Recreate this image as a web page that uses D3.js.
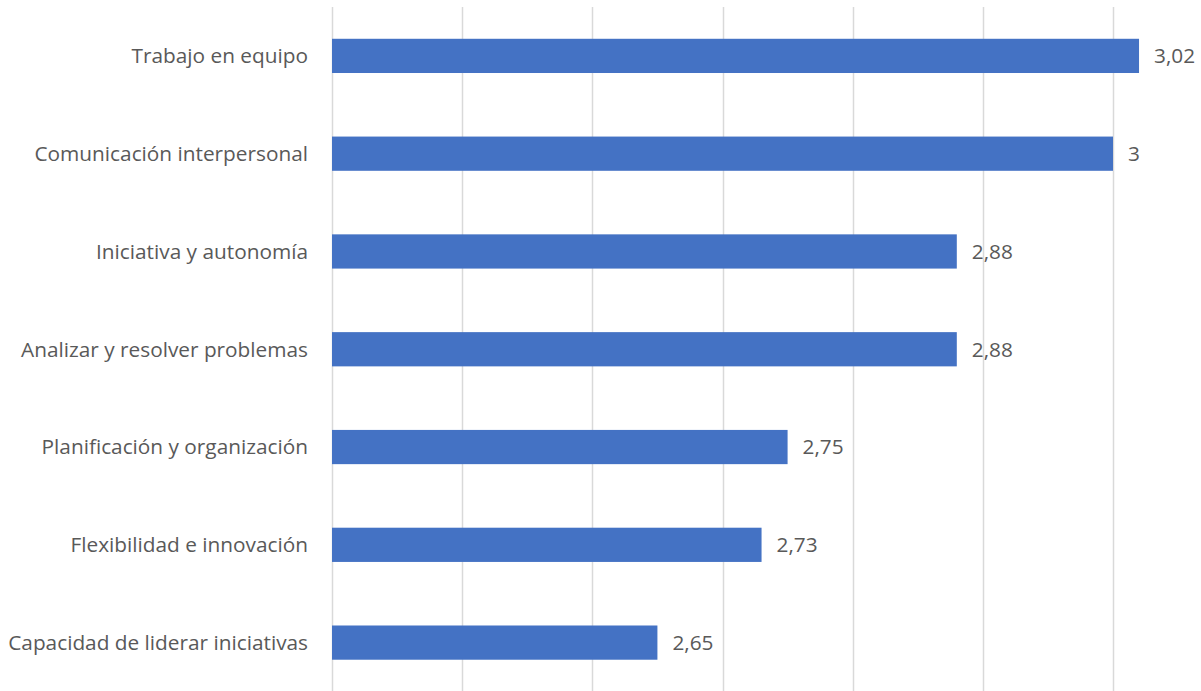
<!DOCTYPE html>
<meta charset="utf-8">
<style>
  body { margin: 0; background: #fff; }
  svg text { font-family: "Open Sans", "Noto Sans", sans-serif; fill: #595959; }
</style>
<body>
<script src="https://cdnjs.cloudflare.com/ajax/libs/d3/7.8.5/d3.min.js"></script>
<script>

var width = 1201,
    height = 691;

// data (top to bottom, as in the chart)
var categories = [
  "Trabajo en equipo",
  "Comunicación interpersonal",
  "Iniciativa y autonomía",
  "Analizar y resolver problemas",
  "Planificación y organización",
  "Flexibilidad e innovación",
  "Capacidad de liderar iniciativas"
];
var values = [3.02, 3, 2.88, 2.88, 2.75, 2.73, 2.65];
var ticks = [2.4, 2.5, 2.6, 2.7, 2.8, 2.9, 3.0];

var x = d3.scaleLinear()
    .domain([2.4, 3.0])
    .range([332, 1113]);

var y = d3.scaleBand()
    .domain(categories)
    .range([7, 691.5])
    .paddingInner(0.65)
    .paddingOuter(0.325);

var svg = d3.select("body").append("svg")
    .attr("width", width)
    .attr("height", height);

// gridlines
svg.selectAll("line.grid")
    .data(ticks)
  .enter().append("line")
    .attr("class", "grid")
    .attr("x1", function(d) { return Math.round(x(d)) + 0.5; })
    .attr("x2", function(d) { return Math.round(x(d)) + 0.5; })
    .attr("y1", 7)
    .attr("y2", height)
    .attr("stroke", "#d9d9d9")
    .attr("stroke-width", 1.5);

var fmt = function(v) { return String(v).replace(".", ","); };

svg.selectAll("rect.bar")
    .data(values)
  .enter().append("rect")
    .attr("class", "bar")
    .attr("x", x(2.4))
    .attr("y", function(d, i) { return y(categories[i]); })
    .attr("width", function(d) { return x(d) - x(2.4); })
    .attr("height", y.bandwidth())
    .attr("fill", "#4472c4");

// value labels
svg.selectAll("text.val")
    .data(values)
  .enter().append("text")
    .attr("class", "val")
    .attr("x", function(d) { return x(d) + 15; })
    .attr("y", function(d, i) { return y(categories[i]) + y.bandwidth() / 2; })
    .attr("dy", "0.35em")
    .style("font-size", "20.8px")
    .text(fmt);

// category axis labels
svg.selectAll("text.cat")
    .data(categories)
  .enter().append("text")
    .attr("class", "cat")
    .attr("x", 308)
    .attr("y", function(d) { return y(d) + y.bandwidth() / 2; })
    .attr("dy", "0.35em")
    .attr("text-anchor", "end")
    .style("font-size", "20.8px")
    .text(function(d) { return d; });

</script>
